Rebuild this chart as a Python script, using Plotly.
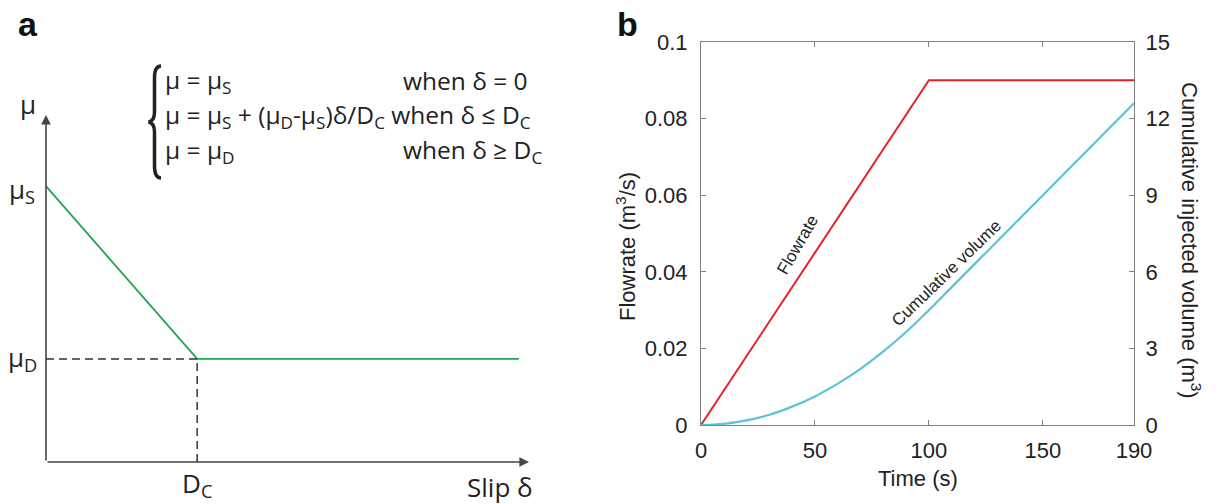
import plotly.graph_objects as go

W, H = 1220, 504

# ---------------- Panel a data (schematic slip-weakening law) ----------------
slip = [0.0, 0.313, 0.979]
friction = [0.795, 0.297, 0.297]
mu_s = 0.795
mu_d = 0.297
d_c = 0.313

# ---------------- Panel b data ----------------
flow_time = [0, 100, 190]
flowrate = [0.0, 0.09, 0.09]

vol_time = [0, 10, 20, 30, 40, 50, 60, 70, 80, 90, 100, 110, 120, 130, 140,
            150, 160, 170, 180, 190]
cum_volume = [0.0, 0.045, 0.18, 0.4, 0.72, 1.12, 1.62, 2.2, 2.88, 3.64, 4.5,
              5.4, 6.3, 7.2, 8.1, 9.0, 9.9, 10.8, 11.7, 12.6]

x_ticks = [0, 50, 100, 150, 190]
y_left_ticks = [0, 0.02, 0.04, 0.06, 0.08, 0.1]
y_left_text = ["0", "0.02", "0.04", "0.06", "0.08", "0.1"]
y_right_ticks = [0, 3, 6, 9, 12, 15]


def px(x):
    return x / W


def py(y):
    return 1 - y / H


fig = go.Figure()

GREEN = "#1ea552"
RED = "#e8202a"
BLUE = "#5bc2da"
AX = "#444444"

# Panel a traces
fig.add_trace(go.Scatter(x=slip, y=friction, mode="lines",
                         line=dict(color=GREEN, width=1.8),
                         xaxis="x", yaxis="y", showlegend=False, hoverinfo="skip"))
fig.add_trace(go.Scatter(x=[0, d_c], y=[mu_d, mu_d], mode="lines",
                         line=dict(color="#333333", width=1.5, dash="8px,5px"),
                         xaxis="x", yaxis="y", showlegend=False, hoverinfo="skip"))
fig.add_trace(go.Scatter(x=[d_c, d_c], y=[0, mu_d], mode="lines",
                         line=dict(color="#333333", width=1.5, dash="8px,5px"),
                         xaxis="x", yaxis="y", showlegend=False, hoverinfo="skip"))

# Panel b traces
fig.add_trace(go.Scatter(x=flow_time, y=flowrate, mode="lines",
                         line=dict(color=RED, width=2),
                         xaxis="x2", yaxis="y2", showlegend=False, cliponaxis=False))
fig.add_trace(go.Scatter(x=vol_time, y=cum_volume, mode="lines", line_shape="spline",
                         line=dict(color=BLUE, width=2.2),
                         xaxis="x2", yaxis="y3", showlegend=False, cliponaxis=False))

tickfont = dict(family="Liberation Sans, Arial", size=22, color="#222222")
axis_b_common = dict(showgrid=False, zeroline=False, showline=True, linecolor="#808080",
                     linewidth=1, ticks="inside", ticklen=5, tickcolor="#808080",
                     tickfont=tickfont, automargin=False)

fig.update_layout(
    template="none",
    width=W, height=H,
    margin=dict(l=0, r=0, t=0, b=0, pad=0, autoexpand=False),
    paper_bgcolor="white", plot_bgcolor="rgba(0,0,0,0)",
    xaxis=dict(domain=[px(46), px(529)], range=[0, 1], visible=False, fixedrange=True,
               automargin=False),
    yaxis=dict(domain=[py(462), py(115)], range=[0, 1], visible=False, fixedrange=True,
               automargin=False),
    xaxis2=dict(domain=[px(701), px(1134)], range=[0, 190], tickvals=x_ticks,
                anchor="y2", mirror="ticks", ticklabelstandoff=6, **axis_b_common),
    yaxis2=dict(domain=[py(425), py(42)], range=[0, 0.1], tickvals=y_left_ticks,
                ticktext=y_left_text, anchor="x2", ticklabelstandoff=8, **axis_b_common),
    yaxis3=dict(domain=[py(425), py(42)], range=[0, 15], tickvals=y_right_ticks,
                overlaying="y2", side="right", anchor="x2", ticklabelstandoff=6,
                **axis_b_common),
)

ann = []
# Panel a axes arrows
ann.append(dict(x=1, y=0, ax=0, ay=0, xref="x", yref="y", axref="x", ayref="y",
                text="", showarrow=True, arrowhead=2, arrowsize=1.2, arrowwidth=1.6,
                arrowcolor=AX))
ann.append(dict(x=0, y=1, ax=0, ay=0, xref="x", yref="y", axref="x", ayref="y",
                text="", showarrow=True, arrowhead=2, arrowsize=1.2, arrowwidth=1.6,
                arrowcolor=AX))

fa = dict(family="Open Sans, Noto Sans", size=26, color="#222222")
fe = dict(family="Open Sans, Noto Sans", size=24.5, color="#222222")


def label(text, x, y, font, xanchor="center", yanchor="middle", angle=0):
    ann.append(dict(text=text, x=px(x), y=py(y), xref="paper", yref="paper",
                    showarrow=False, font=font, xanchor=xanchor, yanchor=yanchor,
                    textangle=angle))


label("μ", 28, 104, fa)
label("μ<sub>S</sub>", 22, 190, fa)
label("μ<sub>D</sub>", 22, 358, fa)
label("D<sub>C</sub>", 197, 484, fa)
label("Slip δ", 500, 487, fa)

# Equation lines
label("μ = μ<sub>S</sub>", 163, 81, fe, xanchor="left")
label("when δ = 0", 401, 81, fe, xanchor="left")
label("μ = μ<sub>S</sub> + (μ<sub>D</sub>-μ<sub>S</sub>)δ/D<sub>C</sub> when δ ≤ D<sub>C</sub>",
      163, 116, fe, xanchor="left")
label("μ = μ<sub>D</sub>", 163, 151, fe, xanchor="left")
label("when δ ≥ D<sub>C</sub>", 401, 151, fe, xanchor="left")

# Curly brace drawn as a path in paper coordinates
brace_pts = "M {a},{b} Q {c},{b} {c},{d} L {c},{e} Q {c},{f} {g},{h} Q {c},{i} {c},{j} L {c},{k} Q {c},{l} {a},{l}"
brace = brace_pts.format(a=px(161), b=py(66), c=px(154.5), d=py(78), e=py(112),
                         f=py(121), g=px(148.5), h=py(122), i=py(123), j=py(132),
                         k=py(166), l=py(178))
shapes = [dict(type="path", path=brace, xref="paper", yref="paper",
               line=dict(color="#222222", width=3.5))]

# Panel letters
bold = dict(family="Liberation Sans, Arial", size=34, color="#111111")
label("<b>a</b>", 28, 24, bold)
label("<b>b</b>", 627, 24, bold)

# Panel b axis titles
tf = dict(family="Liberation Sans, Arial", size=22, color="#222222")
label("Time (s)", 918, 478, tf)
label("Flowrate (m<sup>3</sup>/s)", 626, 246, tf, angle=-90)
label("Cumulative injected volume (m<sup>3</sup>)", 1191, 240, tf, angle=90)

# Curve labels
cf = dict(family="Liberation Sans, Arial", size=17, color="#222222")
label("Flowrate", 797, 245, cf, angle=-60)
label("Cumulative volume", 946, 273, cf, angle=-44)

fig.update_layout(annotations=ann, shapes=shapes)

fig.write_html("out.html",
               config={"displayModeBar": False, "staticPlot": True},
               post_script="document.body.style.margin='0';document.body.style.padding='0';")
